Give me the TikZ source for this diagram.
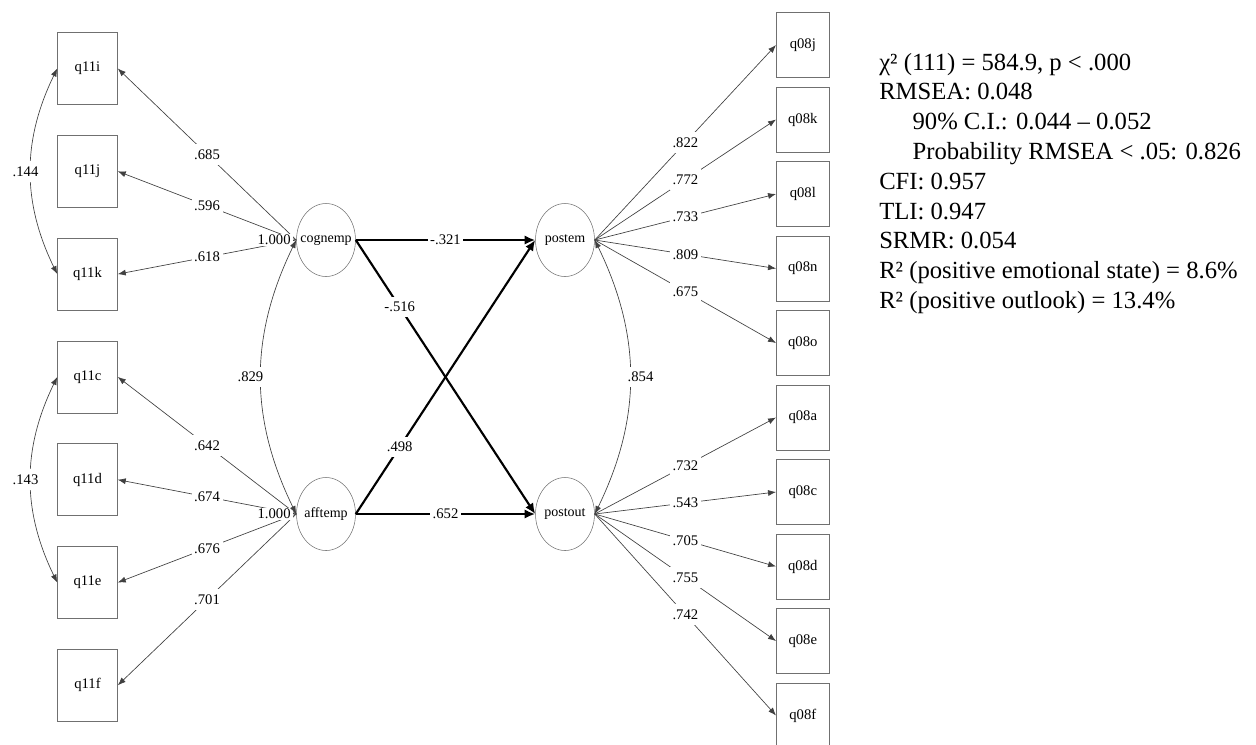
\documentclass[tikz,border=0pt]{standalone}
\usepackage{fontspec}
\setmainfont{Liberation Serif}
\usetikzlibrary{arrows.meta,shapes.geometric}
\definecolor{linegray}{HTML}{404040}
\definecolor{framegray}{HTML}{707070}
\tikzset{
  indicator/.style={draw=framegray,inner sep=0pt,font=\fontsize{11}{13}\selectfont},
  leftbox/.style={indicator,minimum width=45pt,minimum height=54pt},
  rightbox/.style={indicator,minimum width=39.75pt,minimum height=48.75pt},
  latent/.style={ellipse,draw=framegray,inner sep=0pt,minimum width=44.25pt,
    minimum height=54.75pt,font=\fontsize{10.5}{12}\selectfont},
  coef/.style={fill=white,inner xsep=2pt,inner ysep=4pt,font=\fontsize{11}{13}\selectfont},
  loading/.style={draw=linegray,line width=0.5pt,-{Latex[length=6pt,width=4.5pt]}},
  covar/.style={draw=linegray,line width=0.5pt,
    {Latex[length=6pt,width=4.5pt]}-{Latex[length=6pt,width=4.5pt]}},
  struct/.style={draw=black,line width=1.6pt,-{Latex[length=8pt,width=7pt]}},
  fitstats/.style={align=left,inner sep=0pt,font=\fontsize{18.5}{22.35}\selectfont}
}

\begin{document}
\begin{tikzpicture}[x=0.75pt,y=-0.75pt]
  \useasboundingbox (0,0) rectangle (1256,744);
  \clip (0,0) rectangle (1256,744);

  \foreach \name [count=\i from 0] in {q11i,q11j,q11k,q11c,q11d,q11e,q11f}
    \node[leftbox] (\name) at (87.5,{68.5+102.8*\i}) {\name};
  \foreach \name [count=\i from 0] in {q08j,q08k,q08l,q08n,q08o,q08a,q08c,q08d,q08e,q08f}
    \node[rightbox] (\name) at (802.8,{45+74.5*\i}) {\name};

  \node[latent] (cognemp) at (326,240) {\makebox[0pt]{cognemp}};
  \node[latent] (afftemp) at (326,514) {\makebox[0pt]{afftemp}};
  \node[latent] (postem) at (565,240) {\makebox[0pt]{postem}};
  \node[latent] (postout) at (565,514) {\makebox[0pt]{postout}};

  \foreach \name/\val in {q11i/.685,q11j/.596,q11k/.618}
    \draw[loading] (cognemp.west) -- node[coef] (c\name) {\val} (\name.east);
  \foreach \name/\val in {q11c/.642,q11d/.674,q11e/.676,q11f/.701}
    \draw[loading] (afftemp.west) -- node[coef] (c\name) {\val} (\name.east);
  \foreach \name/\val in {q08j/.822,q08k/.772,q08l/.733,q08n/.809,q08o/.675}
    \draw[loading] (postem.east) -- node[coef] (c\name) {\val} (\name.west);
  \foreach \name/\val in {q08a/.732,q08c/.543,q08d/.705,q08e/.755,q08f/.742}
    \draw[loading] (postout.east) -- node[coef] (c\name) {\val} (\name.west);

  \node[coef,anchor=east,inner ysep=1pt] (cognvar) at ([xshift=-2pt]cognemp.west) {1.000};
  \node[coef,anchor=east,inner ysep=1pt] (affvar) at ([xshift=-2pt]afftemp.west) {1.000};

  \draw[covar] (q11i.west) to[bend right=26] node[coef,xshift=-4pt] (cik) {.144} (q11k.west);
  \draw[covar] (q11c.west) to[bend right=26] node[coef,xshift=-4pt] (cce) {.143} (q11e.west);
  \draw[covar] (cognemp.west) to[bend right=26] node[coef,xshift=-8pt] (cca) {.829} (afftemp.west);
  \draw[covar] (postem.east) to[bend left=26] node[coef,xshift=8pt] (cpp) {.854} (postout.east);

  \draw[struct] (cognemp.east) -- node[coef] (ccp) {-.321} (postem.west);
  \draw[struct] (cognemp.east) -- node[coef,pos=0.245] (cco) {-.516} (postout.west);
  \draw[struct] (afftemp.east) -- node[coef,pos=0.245] (cap) {.498} (postem.west);
  \draw[struct] (afftemp.east) -- node[coef] (cao) {.652} (postout.west);

  \node[fitstats,anchor=base west] (fit) at (879,308.4)
    {χ² (111) = 584.9, p < .000\\
     RMSEA: 0.048\\
     \hspace*{25pt}90\% C.I.: 0.044 – 0.052\\
     \hspace*{25pt}Probability RMSEA < .05: 0.826\\
     CFI: 0.957\\
     TLI: 0.947\\
     SRMR: 0.054\\
     R² (positive emotional state) = 8.6\%\\
     R² (positive outlook) = 13.4\%};
\end{tikzpicture}
\end{document}
